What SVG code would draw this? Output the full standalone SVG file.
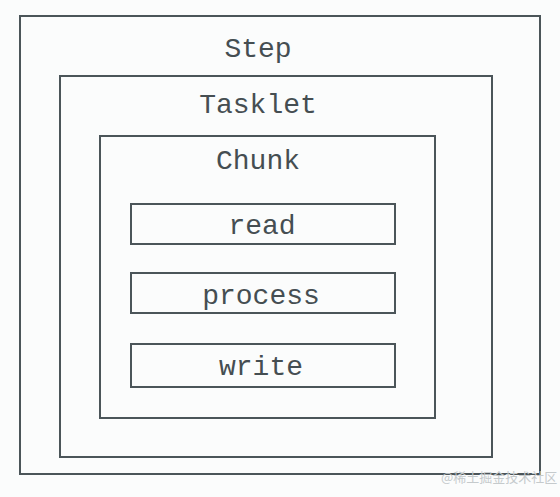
<svg xmlns="http://www.w3.org/2000/svg" width="560" height="497" viewBox="0 0 560 497">
<style>
.box{fill:none;stroke:#4b5559;stroke-width:2}
.lbl{font-family:"Liberation Mono","Courier New",monospace;font-size:28px;fill:#454e52;text-anchor:middle}
.wm{font-family:"Noto Sans CJK SC",sans-serif;font-size:13px;fill:#c5cacc}
</style>
<rect width="560" height="497" fill="#fbfcfc"/>
<g id="step"><rect class="box" x="20" y="16" width="520" height="458"/><text class="lbl" x="258" y="57">Step</text></g>
<g id="tasklet"><rect class="box" x="60" y="76" width="432" height="381"/><text class="lbl" x="258" y="113">Tasklet</text></g>
<g id="chunk"><rect class="box" x="100" y="136" width="335" height="282"/><text class="lbl" x="258" y="169">Chunk</text></g>
<g id="read"><rect class="box" x="131" y="204" width="264" height="40"/><text class="lbl" x="262" y="234">read</text></g>
<g id="process"><rect class="box" x="131" y="273" width="264" height="40"/><text class="lbl" x="261" y="304">process</text></g>
<g id="write"><rect class="box" x="131" y="344" width="264" height="43"/><text class="lbl" x="261" y="375">write</text></g>
<g id="connectors"></g>
<text class="wm" x="441" y="482">@稀土掘金技术社区</text>
</svg>
